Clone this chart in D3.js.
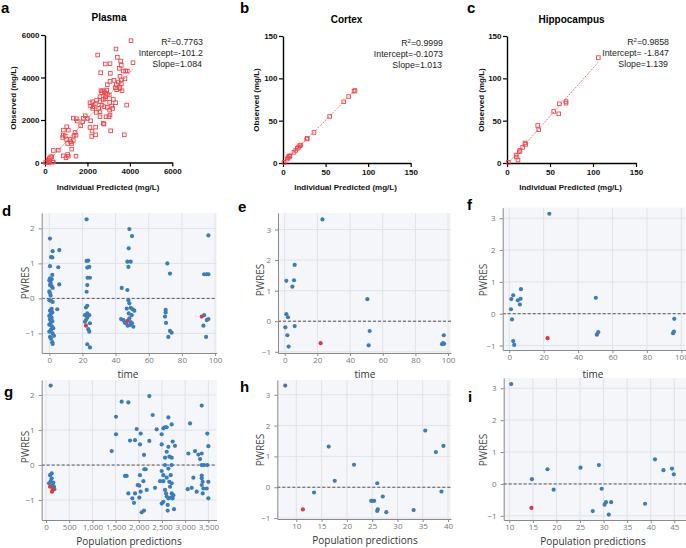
<!DOCTYPE html>
<html><head><meta charset="utf-8">
<script src="https://cdn.jsdelivr.net/npm/d3@7"></script>
<style>body{margin:0;background:#fff}</style>
</head><body>
<svg id="c" width="686" height="548"></svg>
<script>
// ---------- DATA ----------
const plasmaPts = [[31,0],[204,189],[267,267],[157,110],[393,31],[189,0],[4053,5734],[2482,5059],[3346,5341],[4147,4697],[3063,4650],[2844,4634],[3409,4949],[3566,4776],[3598,4572],[3503,4430],[3802,4305],[3692,4305],[3880,4305],[2624,4226],[3079,4194],[3535,4053],[3770,3943],[3252,3865],[3598,3880],[3063,3817],[3456,3786],[3598,3708],[2938,3660],[3362,3660],[3315,3519],[3503,3535],[3629,3378],[3378,3425],[3535,3472],[2639,3378],[2718,3378],[2796,3331],[2875,3252],[2671,3283],[2906,3409],[3032,3173],[3220,2969],[3331,2812],[2592,3095],[2749,2969],[2843,3001],[2938,3205],[2435,2938],[2592,2859],[3048,2828],[3142,2655],[2686,2702],[2781,2624],[2938,2592],[3048,2466],[3189,2545],[2278,2624],[2859,3095],[3849,2702],[2121,2812],[2247,2859],[2152,2655],[2372,2749],[2529,2545],[2247,2545],[2592,2152],[2875,2152],[3016,2152],[3063,2231],[2419,2357],[2592,2388],[1901,2199],[1807,2074],[1995,2074],[1335,2089],[1477,2058],[1775,1917],[2152,1964],[1524,1948],[2121,1650],[2388,1665],[2215,1477],[2749,1838],[2781,1807],[3095,1492],[3739,1304],[2199,1225],[2388,1304],[1681,1728],[864,1524],[1100,1524],[1414,1414],[1461,1288],[1021,1681],[958,1241],[864,1288],[833,1178],[1021,1084],[1178,1084],[1210,974],[1367,1273],[1335,1037],[1068,895],[1257,895],[1257,628],[1068,377],[990,220],[1461,298],[1100,298],[864,314],[628,581],[393,566],[314,267],[236,79],[141,16],[361,16]];
const cortexPts = [[1.2,0.8],[5.1,4.7],[5.9,6.3],[7,7.9],[7.8,7.9],[8.2,8.6],[12.9,12.6],[14.9,14.9],[16.8,17.3],[18.4,18.8],[19.6,20.4],[20.8,21.2],[27.8,28.3],[28.6,29.1],[36.4,36.1],[54.8,55],[71.3,72.3],[77.1,78.5],[83.4,84.8],[84.6,85.6]];
const hippoPts = [[1.6,0.8],[10.5,9.4],[10.9,7.1],[12.8,3.5],[14.3,13.4],[15.1,14.9],[18.2,18.5],[20.9,23.6],[21.7,22],[35.7,44.4],[36.8,39.3],[54.3,60.9],[60.1,58.1],[60.9,69.9],[68.6,72.6],[68.6,70.7],[106.2,124.5]];
const plasmaFit = {intercept:-101.2, slope:1.084};
const cortexFit = {intercept:-0.1073, slope:1.013};
const hippoFit = {intercept:-1.847, slope:1.139};
const plasmaStats = ["0.7763","Intercept=-101.2","Slope=1.084"];
const cortexStats = ["0.9999","Intercept=-0.1073","Slope=1.013"];
const hippoStats = ["0.9858","Intercept= -1.847","Slope=1.139"];
const plasmaTicks = [0,2000,4000,6000];
const brainTicks = [0,50,100,150];

const timeTicks = [0,20,40,60,80,100];
const pwresTicksD = [-1,0,1,2];
const pwresTicks = [-1,0,1,2,3];
const popTicksG = [0,500,1000,1500,2000,2500,3000,3500];
const popTicksH = [10,15,20,25,30,35,40];
const popTicksI = [10,15,20,25,30,35,40,45];

const dBlue = [[0.4,1.71],[1,1.18],[1.8,1.17],[2,1.35],[0.4,0.92],[1.8,0.67],[0.4,0.57],[1.4,0.55],[0,0.52],[0.8,0.45],[0.4,0.38],[1.4,0.35],[2,0.3],[0,0.2],[0.4,0.15],[0.8,0.08],[0,-0.05],[1,-0.07],[2,-0.1],[1.4,-0.3],[0.4,-0.35],[1.8,-0.4],[0.8,-0.45],[0,-0.5],[1.4,-0.55],[0.4,-0.6],[1.8,-0.65],[0.8,-0.7],[0,-0.75],[1.6,-0.8],[2.4,-0.85],[1,-0.9],[0,-0.95],[2,-1.0],[2.8,-1.07],[0.4,-1.1],[1,-1.15],[1.8,-1.25],[2,-1.3],[6,1.38],[5.4,0.89],[6,0.40],[4.8,-0.31],[22.5,2.26],[22.5,1.07],[23.5,1.08],[22.9,0.88],[24.1,0.9],[23.1,0.59],[24.5,0.59],[22.9,0.38],[22.5,0.19],[22.9,-0.21],[22.1,-0.26],[22.9,-0.43],[21.5,-0.48],[24.1,-0.48],[22.9,-0.55],[22.1,-0.62],[21.5,-0.67],[24.5,-0.71],[23.5,-0.88],[24.1,-0.95],[22.9,-1.31],[24.5,-1.4],[48.3,1.98],[49.9,1.78],[47.9,1.43],[47.1,1.05],[49.1,1.05],[47.7,0.9],[43.7,0.3],[47.1,0.24],[47.7,-0.05],[48.3,-0.14],[49.1,-0.27],[50.3,-0.31],[46.7,-0.29],[51.3,-0.35],[47.9,-0.43],[49.7,-0.48],[43.3,-0.59],[44.7,-0.62],[45.5,-0.69],[46.3,-0.71],[48.3,-0.57],[49.1,-0.68],[47.3,-0.78],[48.7,-0.76],[49.9,-0.71],[50.7,-0.81],[71.2,1.0],[72.8,0.71],[70.2,-0.33],[70.2,-0.4],[69.8,-0.52],[70.4,-0.7],[72.8,-0.93],[73.8,-0.98],[71.8,-1.1],[96,1.8],[93.4,0.69],[95,0.69],[96,0.69],[93.4,-0.48],[95,-0.62],[96,-0.59],[93,-0.78],[94.6,-1.1]];
const dRed = [[22.1,-0.78],[47.1,-0.64],[92,-0.52]];
const eBlue = [[23.1,3.33],[6.1,1.84],[1.0,1.32],[5.7,1.34],[4.7,1.13],[50.6,0.72],[1.0,0.23],[2,0.13],[0.4,-0.2],[6.1,-0.16],[1.6,-0.46],[2.4,-0.83],[52,-0.32],[51.4,-0.79],[97.4,-0.46],[96.9,-0.72],[96.3,-0.75],[97.6,-0.74]];
const eRed = [[22,-0.72]];
const fBlue = [[23.3,3.14],[6.8,0.77],[1.2,0.46],[2.3,0.58],[5,0.42],[6.6,0.47],[6.2,0.29],[1,0.14],[1.6,-0.18],[2.3,-0.86],[2.9,-0.98],[50.3,0.5],[50.9,-0.66],[51.7,-0.58],[95.9,-0.16],[95.2,-0.61],[95.7,-0.56]];
const fRed = [[22.3,-0.77]];
const gBlue = [[100,2.27],[86,-0.29],[122,-0.24],[65,-0.52],[100,-0.46],[122,-0.38],[144,-0.57],[158,-0.5],[172,-0.62],[180,-0.69],[136,-0.59],[1416,0.40],[1509,1.38],[1509,0.88],[1631,1.81],[1775,1.79],[1703,-0.31],[1739,-0.31],[1775,-0.81],[1811,0.70],[1861,-0.95],[1897,-1.08],[1919,0.71],[1919,-0.81],[1955,1.03],[1976,-0.57],[2012,-0.59],[2026,0.59],[2041,0.90],[2026,-0.29],[2041,-0.76],[2012,-0.93],[2063,-1.35],[2113,-1.30],[2113,0.29],[2120,-0.12],[2149,-0.12],[2099,-0.46],[2171,-0.71],[2228,0.69],[2228,1.97],[2300,1.43],[2350,-0.65],[2386,1.02],[2458,-0.46],[2494,0.88],[2530,1.05],[2494,0.59],[2494,-0.17],[2530,-0.29],[2530,-0.46],[2494,-1.1],[2530,-1.05],[2566,1.08],[2602,1.08],[2602,0.38],[2566,0.21],[2566,0],[2602,-0.36],[2566,-0.71],[2588,-0.81],[2602,-0.9],[2623,-1.14],[2623,-1.3],[2638,1.36],[2638,0.52],[2659,0.24],[2638,-0.10],[2659,-0.48],[2674,-0.62],[2638,-0.95],[2688,-0.93],[2710,1.16],[2710,0.21],[2710,0],[2688,-0.29],[2710,-0.81],[2731,-0.95],[2731,0.67],[2745,-0.86],[2760,-1.26],[2781,0.55],[2710,-0.52],[3069,0.33],[3105,1.19],[3055,-0.69],[3141,-0.65],[3177,-0.36],[3213,0.40],[3249,-0.76],[3285,0.30],[3321,0.17],[3357,0.33],[3357,1.70],[3357,-0.30],[3357,-0.38],[3378,-0.48],[3357,-0.57],[3393,-0.67],[3378,-0.81],[3407,0],[3464,-0.67],[3478,0],[3478,0.90],[3500,0.54],[3500,-0.48],[3500,-0.95],[3357,0]];
const gRed = [[86,-0.62],[130,-0.76],[150,-0.69]];
const hBlue = [[7.8,3.30],[16.4,1.32],[17.6,0.21],[13.5,-0.17],[21.4,0.73],[26.0,0.13],[24.8,-0.44],[25.0,-0.44],[25.4,-0.44],[27.1,-0.30],[26.0,-0.77],[26.1,-0.72],[27.8,-0.81],[33.2,-0.74],[35.5,1.84],[37.6,1.14],[39.1,1.34],[38.7,-0.14]];
const hRed = [[11.3,-0.72]];
const iBlue = [[10.4,3.13],[14.8,0.15],[18.1,0.46],[19.4,-0.18],[25.1,0.51],[29,0.59],[29.6,-0.15],[27.7,-0.85],[30.2,-0.65],[30.5,-0.57],[31.6,-0.57],[31.1,-0.96],[38.8,-0.62],[40.9,0.77],[42.7,0.43],[44.5,0.48],[44.9,0.30]];
const iRed = [[14.7,-0.75]];

// ---------- DRAW ----------
const svg = d3.select("#c");
const ARIAL = "'Liberation Sans', Arial, sans-serif";
const SANS = "'Open Sans', 'Noto Sans', sans-serif";
const RED = "#f0474b";

function label(txt, x, y, font) {
  svg.append("text").attr("x", x).attr("y", y).text(txt)
    .attr("font-family", font || ARIAL).attr("font-weight", "bold").attr("font-size", 15).attr("fill", "#000");
}

function gpPanel(o) {
  const g = svg.append("g");
  const x = d3.scaleLinear().domain([o.ticks[0], o.ticks[o.ticks.length-1]]).range(o.xr);
  const y = d3.scaleLinear().domain([o.ticks[0], o.ticks[o.ticks.length-1]]).range(o.yr);
  const xa = g.append("g").attr("transform", `translate(0,${o.yr[0]})`)
    .call(d3.axisBottom(x).tickValues(o.ticks).tickSize(4).tickSizeOuter(0).tickPadding(2).tickFormat(d3.format("d")));
  const ya = g.append("g").attr("transform", `translate(${o.xr[0]},0)`)
    .call(d3.axisLeft(y).tickValues(o.ticks).tickSize(4).tickSizeOuter(0).tickPadding(1.5).tickFormat(d3.format("d")));
  [xa, ya].forEach(a => {
    a.select(".domain").attr("stroke", "#000").attr("stroke-width", 1.4);
    a.selectAll(".tick line").attr("stroke", "#000").attr("stroke-width", 1.2);
    a.selectAll("text").attr("font-family", ARIAL).attr("font-weight", "bold").attr("font-size", 8).attr("fill", "#111");
  });
  const ext = d3.extent(o.pts, d => d[0]);
  g.append("line")
    .attr("x1", x(ext[0])).attr("y1", y(o.fit.intercept + o.fit.slope * ext[0]))
    .attr("x2", x(ext[1])).attr("y2", y(o.fit.intercept + o.fit.slope * ext[1]))
    .attr("stroke", RED).attr("stroke-width", 0.9).attr("stroke-dasharray", "1.2,1.2");
  g.selectAll("rect.pt").data(o.pts).join("rect").attr("class", "pt")
    .attr("x", d => x(d[0]) - 1.8).attr("y", d => y(d[1]) - 1.8)
    .attr("width", 3.6).attr("height", 3.6)
    .attr("fill", "none").attr("stroke", RED).attr("stroke-width", 0.9);
  g.append("text").attr("x", o.titleX).attr("y", o.titleY).attr("text-anchor", "middle")
    .attr("font-family", ARIAL).attr("font-weight", "bold").attr("font-size", 10).text(o.title);
  g.append("text").attr("x", o.titleX - 1).attr("y", 190).attr("text-anchor", "middle")
    .attr("font-family", ARIAL).attr("font-weight", "bold").attr("font-size", 8).attr("fill", "#111")
    .text("Individual Predicted (mg/L)");
  g.append("text").attr("transform", `translate(${o.yTitleX},${o.yTitleY}) rotate(-90)`)
    .attr("text-anchor", "middle").attr("dy", "0.35em")
    .attr("font-family", ARIAL).attr("font-weight", "bold").attr("font-size", 8).attr("fill", "#111")
    .text("Observed (mg/L)");
  const st = g.append("g").attr("font-family", ARIAL).attr("font-size", 8.8).attr("fill", "#222").attr("text-anchor", "end");
  const r2 = st.append("text").attr("x", o.statX).attr("y", o.statY);
  r2.append("tspan").text("R");
  r2.append("tspan").attr("dy", -3.5).attr("font-size", 6).text("2");
  r2.append("tspan").attr("dy", 3.5).text("=" + o.stats[0]);
  st.append("text").attr("x", o.statX).attr("y", o.statY + 11).text(o.stats[1]);
  st.append("text").attr("x", o.statX - 1).attr("y", o.statY + 22).text(o.stats[2]);
}

gpPanel({pts: plasmaPts, fit: plasmaFit, stats: plasmaStats, ticks: plasmaTicks, xr: [45, 172.3], yr: [162.5, 35],
  title: "Plasma", titleX: 109, titleY: 21, yTitleX: 13, yTitleY: 98, statX: 203, statY: 45});
gpPanel({pts: cortexPts, fit: cortexFit, stats: cortexStats, ticks: brainTicks, xr: [283, 410.7], yr: [163, 36],
  title: "Cortex", titleX: 346.5, titleY: 23, yTitleX: 256, yTitleY: 100, statX: 443, statY: 46});
gpPanel({pts: hippoPts, fit: hippoFit, stats: hippoStats, ticks: brainTicks, xr: [507, 636], yr: [163, 36],
  title: "Hippocampus", titleX: 571.5, titleY: 23, yTitleX: 481, yTitleY: 100, statX: 669, statY: 45});

function resPanel(o) {
  const g = svg.append("g");
  const x = d3.scaleLinear().domain(o.xd).range(o.xr);
  const y = d3.scaleLinear().domain(o.yd).range(o.yr);
  g.append("rect").attr("x", o.xr[0]).attr("y", o.yr[1]).attr("width", o.xr[1] - o.xr[0]).attr("height", o.yr[0] - o.yr[1])
    .attr("fill", "#f5f6f9");
  g.selectAll("line.vg").data(o.xt).join("line").attr("class", "vg")
    .attr("x1", d => x(d)).attr("x2", d => x(d)).attr("y1", o.yr[1]).attr("y2", o.yr[0])
    .attr("stroke", "#e1e2e7").attr("stroke-width", 1);
  g.selectAll("line.hg").data(o.yt).join("line").attr("class", "hg")
    .attr("y1", d => y(d)).attr("y2", d => y(d)).attr("x1", o.xr[0]).attr("x2", o.xr[1])
    .attr("stroke", "#e1e2e7").attr("stroke-width", 1);
  g.append("line").attr("x1", o.xr[0]).attr("x2", o.xr[1]).attr("y1", y(0)).attr("y2", y(0))
    .attr("stroke", "#555").attr("stroke-width", 1).attr("stroke-dasharray", "3,2");
  const xa = g.append("g").attr("transform", `translate(0,${o.yr[0]})`)
    .call(d3.axisBottom(x).tickValues(o.xt).tickSize(3).tickSizeOuter(0).tickPadding(1.5).tickFormat(d3.format(",")));
  const ya = g.append("g").attr("transform", `translate(${o.xr[0]},0)`)
    .call(d3.axisLeft(y).tickValues(o.yt).tickSize(3).tickSizeOuter(0).tickPadding(4).tickFormat(d3.format("d")));
  [xa, ya].forEach(a => {
    a.select(".domain").attr("stroke", "#8a8a8a").attr("stroke-width", 1);
    a.selectAll(".tick line").attr("stroke", "#8a8a8a");
    a.selectAll("text").attr("font-family", SANS).attr("font-size", 8).attr("fill", "#777");
  });
  g.selectAll("circle.b").data(o.blue).join("circle").attr("class", "b")
    .attr("cx", d => x(d[0])).attr("cy", d => y(d[1])).attr("r", 2.1).attr("fill", "#3a7dbd");
  g.selectAll("circle.r").data(o.red).join("circle").attr("class", "r")
    .attr("cx", d => x(d[0])).attr("cy", d => y(d[1])).attr("r", 2.1).attr("fill", "#e0393b");
  g.append("text").attr("transform", `translate(${o.ytX},${o.ytY}) rotate(-90)`)
    .attr("text-anchor", "middle").attr("dy", "0.35em")
    .attr("font-family", SANS).attr("font-size", 10).attr("fill", "#444").text("PWRES");
  g.append("text").attr("x", o.xtX).attr("y", o.xtY).attr("text-anchor", "middle")
    .attr("font-family", SANS).attr("font-size", o.xtSize).attr("fill", "#333").text(o.xTitle);
}

resPanel({blue: dBlue, red: dRed, xd: [-4.6, 101], xr: [41.7, 216.7], yd: [-1.56, 2.44], yr: [353, 213],
  xt: timeTicks, yt: pwresTicksD, ytX: 25, ytY: 283, xTitle: "time", xtX: 128, xtY: 378, xtSize: 10});
resPanel({blue: eBlue, red: eRed, xd: [-4.1, 101.8], xr: [278, 451], yd: [-1.04, 3.54], yr: [353, 213],
  xt: timeTicks, yt: pwresTicks, ytX: 260, ytY: 280, xTitle: "time", xtX: 365, xtY: 378, xtSize: 10});
resPanel({blue: fBlue, red: fRed, xd: [-3.8, 103], xr: [502.7, 686.5], yd: [-1.14, 3.33], yr: [350, 207.7],
  xt: timeTicks, yt: pwresTicks, ytX: 483, ytY: 280, xTitle: "time", xtX: 593, xtY: 378, xtSize: 10});
resPanel({blue: gBlue, red: gRed, xd: [-93, 3680], xr: [41.7, 216.7], yd: [-1.57, 2.43], yr: [520, 380],
  xt: popTicksG, yt: pwresTicksD, ytX: 25, ytY: 447, xTitle: "Population predictions", xtX: 129, xtY: 544.5, xtSize: 10});
resPanel({blue: hBlue, red: hRed, xd: [6.24, 40.59], xr: [277.3, 451], yd: [-1.03, 3.48], yr: [519, 380],
  xt: popTicksH, yt: pwresTicks, ytX: 260, ytY: 450, xTitle: "Population predictions", xtX: 365, xtY: 544, xtSize: 10});
resPanel({blue: iBlue, red: iRed, xd: [8.81, 47.48], xr: [503.7, 686], yd: [-1.13, 3.32], yr: [520, 378],
  xt: popTicksI, yt: pwresTicks, ytX: 483, ytY: 450, xTitle: "Population predictions", xtX: 593, xtY: 544.5, xtSize: 10});

label("a", 1, 13);
label("b", 240, 13);
label("c", 467, 13);
label("d", 2, 216);
label("e", 238, 212);
label("f", 467, 210);
label("g", 4, 397);
label("h", 240, 392);
label("i", 468, 402);
</script>
</body></html>
